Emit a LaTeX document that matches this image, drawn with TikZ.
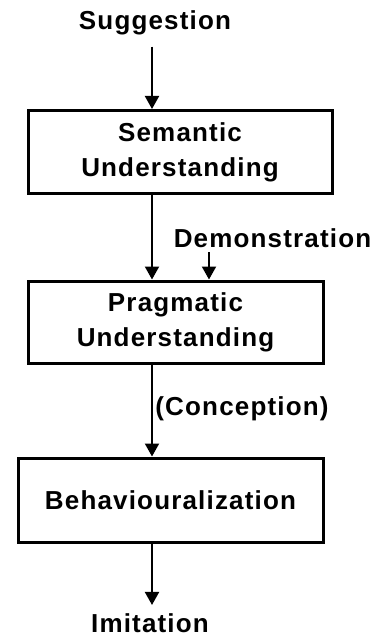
\documentclass[tikz,border=0pt]{standalone}
\usepackage{fontspec}
\setmainfont{Liberation Sans}[LetterSpace=4.5]
\usetikzlibrary{arrows.meta}
\begin{document}
\begin{tikzpicture}[x=1pt,y=-1pt,
  lbl/.style={font=\fontsize{26}{35}\selectfont\bfseries, inner sep=0pt},
  stage/.style={draw, line width=3pt, align=center,
    font=\fontsize{26}{35}\selectfont\bfseries, inner sep=0pt},
  flow/.style={line width=2pt, -{Triangle[length=13pt,width=14pt]}}]
  \useasboundingbox[fill=white] (0,0) rectangle (379,636);

  % the three stages
  \node[stage, minimum width=304pt, minimum height=83pt] (sem) at (180,152)
    {Semantic\\Understanding};
  \node[stage, minimum width=295pt, minimum height=82pt] (prag) at (175.5,322)
    {Pragmatic\\Understanding};
  \node[stage, minimum width=305pt, minimum height=84pt] (beh) at (170.5,500)
    {Behaviouralization};

  % inputs and outputs
  \node[lbl, anchor=base] (sug) at (155,30) {Suggestion};
  \node[lbl, anchor=base] (demo) at (272.5,247) {Demonstration};
  \node[lbl, anchor=base] (conc) at (242,415) {(Conception)};
  \node[lbl, anchor=base] (imit) at (150,632) {Imitation};

  % vertical guides for the connectors
  \coordinate (ax) at (152,0);
  \coordinate (dx) at (209,0);

  \draw[flow] ([yshift=-11pt]ax |- sug.south) -- (ax |- sem.north);
  \draw[flow] (ax |- sem.south) -- (ax |- prag.north);
  \draw[flow] ([yshift=-5pt]dx |- demo.south) -- (dx |- prag.north);
  \draw[flow] (ax |- prag.south) -- (ax |- beh.north);
  \draw[flow] (ax |- beh.south) -- ([yshift=8pt]ax |- imit.north);
\end{tikzpicture}
\end{document}
